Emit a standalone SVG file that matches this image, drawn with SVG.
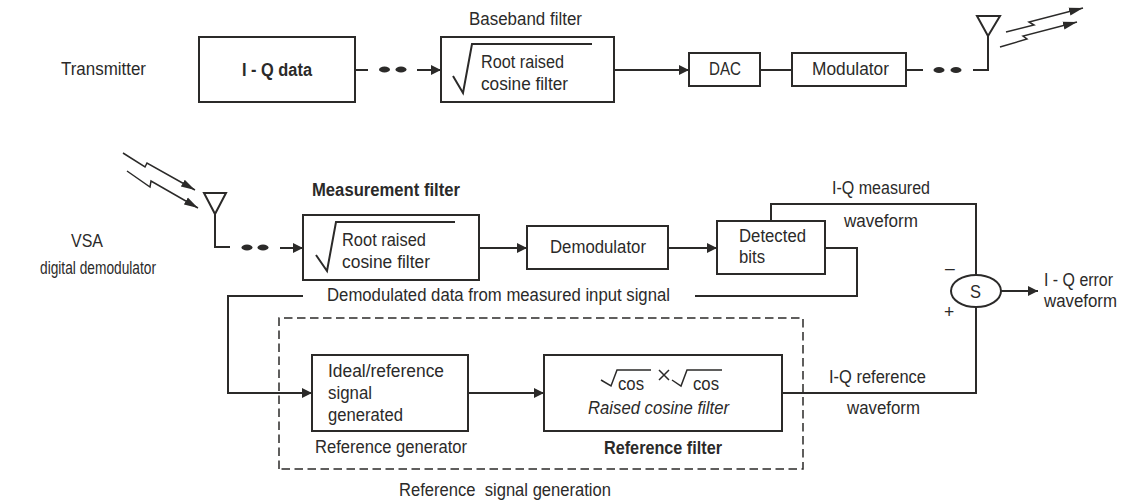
<svg xmlns="http://www.w3.org/2000/svg" width="1130" height="502" viewBox="0 0 1130 502">
<style>
text{font-family:"Liberation Sans",Arial,sans-serif;font-size:17.500px;fill:#2b2a29}
.b{font-weight:bold}
.i{font-style:italic}
.n{fill:#fff;stroke:#2b2a29;stroke-width:2}
.l{fill:none;stroke:#2b2a29;stroke-width:2}
.t{fill:none;stroke:#2b2a29;stroke-width:1.500}
.d{fill:#2b2a29}
</style>
<defs>
<marker id="a" markerUnits="userSpaceOnUse" markerWidth="11" markerHeight="12" refX="10" refY="6" orient="auto"><path d="M0 1L10 6L0 11Z" fill="#2b2a29"/></marker>
<marker id="z" markerUnits="userSpaceOnUse" markerWidth="15" markerHeight="10" refX="14" refY="5" orient="auto"><path d="M0 1L14 5L0 9Z" fill="#2b2a29"/></marker>
</defs>
<g id="connectors">
<path class="l" d="M355 70H368"/><ellipse class="d" cx="384.500" cy="69.500" rx="5.500" ry="3"/><ellipse class="d" cx="401" cy="69.500" rx="5.500" ry="3"/><path class="l" marker-end="url(#a)" d="M417 70H441"/>
<path class="l" marker-end="url(#a)" d="M614 70H689"/>
<path class="l" d="M760 70H792"/>
<path class="l" d="M906 70H923"/><ellipse class="d" cx="939" cy="70" rx="5.500" ry="3"/><ellipse class="d" cx="956" cy="70" rx="5.500" ry="3"/><path class="l" d="M973 70H988V36"/>
<path class="l" d="M215 214V247H230"/><ellipse class="d" cx="247" cy="247.500" rx="5.500" ry="3"/><ellipse class="d" cx="263" cy="247.500" rx="5.500" ry="3"/><path class="l" marker-end="url(#a)" d="M280 248H303"/>
<path class="l" marker-end="url(#a)" d="M479 248H527"/>
<path class="l" marker-end="url(#a)" d="M668 248H717"/>
<path class="l" d="M825 248H857V296H695"/>
<path class="l" marker-end="url(#a)" d="M303 296H228V393H312"/>
<path class="l" marker-end="url(#a)" d="M468 393H544"/>
<path class="l" d="M771 221V204H976V274"/>
<path class="l" d="M782 393H976V307"/>
<path class="l" marker-end="url(#a)" d="M1001 291H1038"/>
<path class="t" marker-end="url(#z)" d="M1006 32L1034 25L1029 22L1083 8"/>
<path class="t" marker-end="url(#z)" d="M1000 47L1027 39L1023 36L1077 22"/>
<path class="t" marker-end="url(#z)" d="M123 153L145 167L147 163L195 190"/>
<path class="t" marker-end="url(#z)" d="M127 171L150 187L151 181L198 208"/>
<path d="M279 469V318H803V469Z" fill="none" stroke="#2b2a29" stroke-width="1.500" stroke-dasharray="8.500 4.500"/>
</g>
<g id="transmitter-label"><text x="61" y="75" textLength="85" lengthAdjust="spacingAndGlyphs">Transmitter</text></g>
<g id="iq-data"><rect class="n" x="199" y="37" width="156" height="65"/><text class="b" x="242" y="76" textLength="70" lengthAdjust="spacingAndGlyphs">I - Q data</text></g>
<g id="baseband-filter"><text x="469" y="25" textLength="113" lengthAdjust="spacingAndGlyphs">Baseband filter</text><rect class="n" x="441" y="37" width="173" height="65"/><path class="l" d="M453 76L463 93L472 44H592"/><text x="481" y="68" textLength="83" lengthAdjust="spacingAndGlyphs">Root raised</text><text x="481" y="90" textLength="87" lengthAdjust="spacingAndGlyphs">cosine filter</text></g>
<g id="dac"><rect class="n" x="689" y="53" width="71" height="33"/><text x="709" y="75" textLength="32" lengthAdjust="spacingAndGlyphs">DAC</text></g>
<g id="modulator"><rect class="n" x="792" y="53" width="114" height="33"/><text x="812" y="75" textLength="77" lengthAdjust="spacingAndGlyphs">Modulator</text></g>
<g id="tx-antenna"><path class="l" d="M977 16H1000L988 36Z"/></g>
<g id="rx-antenna"><path class="l" d="M204 193H226L215 214Z"/></g>
<g id="vsa-label"><text x="71" y="247" textLength="32" lengthAdjust="spacingAndGlyphs">VSA</text><text x="40" y="274" textLength="116" lengthAdjust="spacingAndGlyphs">digital demodulator</text></g>
<g id="measurement-filter"><text class="b" x="312" y="196" textLength="148" lengthAdjust="spacingAndGlyphs">Measurement filter</text><rect class="n" x="303" y="215" width="176" height="65"/><path class="l" d="M316 255L327 271L336 222H455"/><text x="342" y="246" textLength="84" lengthAdjust="spacingAndGlyphs">Root raised</text><text x="342" y="268" textLength="88" lengthAdjust="spacingAndGlyphs">cosine filter</text></g>
<g id="demodulator"><rect class="n" x="527" y="226" width="141" height="43"/><text x="550" y="253" textLength="96" lengthAdjust="spacingAndGlyphs">Demodulator</text></g>
<g id="detected-bits"><rect class="n" x="717" y="221" width="108" height="53"/><text x="739" y="242" textLength="67" lengthAdjust="spacingAndGlyphs">Detected</text><text x="739" y="263" textLength="26" lengthAdjust="spacingAndGlyphs">bits</text></g>
<g id="labels"><text x="327" y="301" textLength="343" lengthAdjust="spacingAndGlyphs">Demodulated data from measured input signal</text>
<text x="832" y="194" textLength="98" lengthAdjust="spacingAndGlyphs">I-Q measured</text><text x="844" y="227" textLength="74" lengthAdjust="spacingAndGlyphs">waveform</text>
<text x="829" y="383" textLength="97" lengthAdjust="spacingAndGlyphs">I-Q reference</text><text x="847" y="414" textLength="73" lengthAdjust="spacingAndGlyphs">waveform</text>
<text x="399" y="496" textLength="212" lengthAdjust="spacingAndGlyphs" xml:space="preserve">Reference  signal generation</text>
<text x="945" y="274">–</text><text x="944" y="318">+</text>
<text x="1044" y="286" textLength="69" lengthAdjust="spacingAndGlyphs">I - Q error</text><text x="1044" y="307" textLength="73" lengthAdjust="spacingAndGlyphs">waveform</text></g>
<g id="summer"><ellipse class="n" cx="976" cy="291" rx="25" ry="16"/><text x="970" y="298" textLength="11" lengthAdjust="spacingAndGlyphs">S</text></g>
<g id="reference-generator"><rect class="n" x="312" y="355" width="156" height="76"/><text x="328" y="377" textLength="116" lengthAdjust="spacingAndGlyphs">Ideal/reference</text><text x="328" y="399" textLength="44" lengthAdjust="spacingAndGlyphs">signal</text><text x="328" y="421" textLength="75" lengthAdjust="spacingAndGlyphs">generated</text><text x="315" y="453" textLength="152" lengthAdjust="spacingAndGlyphs">Reference generator</text></g>
<g id="reference-filter"><rect class="n" x="544" y="355" width="238" height="76"/><path class="t" d="M601 380L611 386L617 370H651"/><path class="t" d="M672 380L681 386L687 370H722"/><text x="618" y="390" textLength="26" lengthAdjust="spacingAndGlyphs">cos</text><text x="693" y="390" textLength="26" lengthAdjust="spacingAndGlyphs">cos</text><path class="t" d="M659 370L669 380M669 370L659 380"/><text class="i" x="588" y="414" textLength="141" lengthAdjust="spacingAndGlyphs">Raised cosine filter</text><text class="b" x="604" y="454" textLength="118" lengthAdjust="spacingAndGlyphs">Reference filter</text></g>
</svg>
